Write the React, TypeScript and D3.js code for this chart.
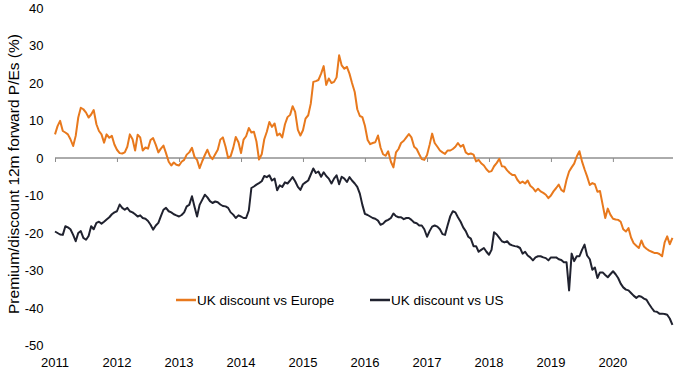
import React, { useRef, useEffect } from 'react';
import * as d3 from 'd3';

// half-monthly readings, 24 per year, 2011 -> 2020
const years = [2011, 2012, 2013, 2014, 2015, 2016, 2017, 2018, 2019, 2020];

const europe2011 = [6.3, 8.5, 9.9, 7.2, 6.8, 6.3, 5.0, 3.2, 5.9, 10.8, 13.4, 13.0, 12.1, 10.8, 11.6, 12.8, 9.0, 7.2, 6.3, 4.1, 6.3, 5.4, 5.9, 3.6];
const europe2012 = [2.2, 1.3, 1.2, 1.5, 3.0, 6.3, 5.0, 2.0, 6.2, 5.5, 2.0, 2.8, 2.5, 4.8, 5.3, 3.5, 1.5, 2.5, 3.3, 1.3, -1.0, -2.0, -1.2, -1.8];
const europe2013 = [-2.0, -1.0, -0.5, 0.9, 1.5, 2.7, 0.3, -0.5, -2.7, -0.8, 0.8, 2.2, 0.5, -0.3, 1.0, 2.2, 4.9, 5.5, 3.0, 0, 0.5, 2.7, 5.6, 4.2];
const europe2014 = [1.3, 4.9, 5.8, 8.0, 6.8, 7.0, 4.4, -0.4, 1.0, 5.0, 7.0, 9.6, 8.3, 9.2, 6.0, 6.5, 5.5, 9.0, 10.9, 11.5, 13.8, 12.3, 7.5, 6.0];
const europe2015 = [7.4, 10.5, 11.4, 14.5, 20.3, 20.5, 20.8, 22.5, 24.5, 19.5, 21.2, 20.0, 20.3, 21.5, 27.4, 24.7, 23.8, 24.3, 22.5, 20.0, 17.6, 13.0, 11.2, 10.9];
const europe2016 = [8.6, 4.8, 3.7, 4.0, 4.2, 6.0, 2.8, 1.0, 0.6, 1.8, -1.0, -2.5, 1.5, 2.4, 4.0, 4.6, 5.5, 6.4, 5.5, 3.0, 2.4, 1.0, -0.3, -0.5];
const europe2017 = [0.8, 3.5, 6.5, 4.0, 3.0, 2.0, 1.5, 1.1, 2.0, 2.0, 2.4, 3.0, 4.0, 3.0, 3.5, 1.5, 1.0, 1.2, 0.9, -0.9, -0.5, -1.4, -2.0, -3.0];
const europe2018 = [-3.7, -3.5, -2.2, -1.3, -0.2, -2.2, -2.3, -3.3, -4.0, -4.5, -4.5, -5.8, -6.7, -6.3, -6.8, -6.0, -7.4, -8.0, -8.9, -8.2, -8.9, -9.3, -9.8, -10.7];
const europe2019 = [-10.0, -8.9, -8.0, -7.1, -8.5, -9.0, -5.8, -3.6, -2.5, -1.5, 0.4, 1.8, -0.9, -3.0, -4.9, -7.2, -6.7, -7.0, -9.0, -8.8, -12.5, -16.0, -13.5, -15.1];
const europe2020 = [-16.2, -16.4, -16.5, -17.0, -19.0, -19.6, -18.7, -21.2, -22.7, -23.4, -24.0, -22.0, -23.6, -24.2, -24.7, -25.0, -25.3, -25.3, -25.6, -26.2, -22.5, -20.9, -23.0, -21.3];

const us2011 = [-19.6, -20, -20.4, -20.5, -18.2, -18.5, -19, -20.5, -22.2, -20, -19.5, -21.3, -21.8, -20.8, -18.2, -19, -17.3, -17, -17.5, -17, -16.4, -15.8, -15, -14.5];
const us2012 = [-14.2, -12.4, -13.3, -13.8, -13.3, -14.2, -14.5, -15, -15.6, -15.3, -16, -16.2, -16.8, -17.8, -19.1, -18, -17.3, -15.5, -13.8, -13.3, -14.2, -14.5, -15, -15.3];
const us2013 = [-15.6, -15.2, -14.5, -12.9, -12.5, -10.2, -13, -15.6, -12.5, -11.1, -9.8, -10.5, -11.5, -12, -11.6, -11.8, -12.4, -12.8, -12.9, -13.3, -14.5, -15.1, -16, -15.3];
const us2014 = [-15.6, -16, -16, -14, -8, -7.6, -7.1, -6.7, -6.2, -4.8, -5.1, -4.6, -6, -5.5, -8.6, -7.3, -7.7, -6.5, -6.8, -6, -5.1, -6.2, -7.7, -8.5];
const us2015 = [-7, -6.5, -6, -4.4, -2.8, -4, -3.6, -5, -3.8, -4.8, -5.5, -6.8, -5.5, -4.6, -7, -5, -5.5, -6.4, -5.1, -6, -6.8, -7.7, -9.5, -12.5];
const us2016 = [-14.9, -15.2, -15.6, -16, -16.2, -16.7, -17.8, -17.5, -16.8, -16.5, -16, -14.8, -15.5, -15.8, -15.8, -16.3, -16, -16, -16.5, -17.2, -17.4, -18, -18, -19];
const us2017 = [-21, -19.5, -18.3, -18, -18.3, -19, -20.3, -20.5, -18, -15.5, -14.2, -14.5, -15.8, -17, -18.5, -19.5, -21, -21.5, -23.5, -23.5, -25, -24.5, -24, -25];
const us2018 = [-25.8, -24.5, -19.8, -20.4, -21.3, -22.2, -22.5, -22.2, -23, -23.3, -23.5, -23.6, -24, -25.5, -25, -26, -26.5, -27.3, -26.5, -26.2, -26.2, -26.5, -26.7, -27.3];
const us2019 = [-26.5, -26.5, -26.5, -27, -27.2, -27.8, -27.8, -35.3, -25.5, -27.5, -26.2, -26.2, -24.5, -23.1, -26, -27, -29.8, -29.2, -32, -30.5, -30.5, -31.2, -31.8, -31];
const us2020 = [-30.2, -31, -32, -33.5, -34.5, -35.1, -35.3, -36, -36.7, -37.3, -36.8, -37, -37.5, -37.8, -39, -40, -40.9, -41, -41.5, -41.5, -41.6, -41.8, -42.8, -44.5];

const europeValues = [europe2011, europe2012, europe2013, europe2014, europe2015, europe2016, europe2017, europe2018, europe2019, europe2020].flat();
const usValues = [us2011, us2012, us2013, us2014, us2015, us2016, us2017, us2018, us2019, us2020].flat();

const yTicks = [40, 30, 20, 10, 0, -10, -20, -30, -40, -50];
const seriesNames = ['UK discount vs Europe', 'UK discount vs US'];
const seriesColors = ['#E8791D', '#20222F'];

const W = 680;
const H = 372;
const FONT = '"Liberation Sans", Arial, sans-serif';

// every reading sits half a month after the one before
const dateAt = (i: number) => new Date(2011, 0, 1 + Math.round(i * 15.22));

const Chart = () => {
  const svgRef = useRef<SVGSVGElement>(null);

  useEffect(() => {
    const svg = d3.select(svgRef.current);
    svg.selectAll('*').remove(); // wipe on rerender

    const x = d3.scaleTime()
      .domain([new Date(2011, 0, 1), new Date(2021, 0, 1)])
      .range([55, 675]);

    const y = d3.scaleLinear()
      .domain([-50, 40])
      .range([345.5, 8]);

    // y tick labels only, no axis line
    svg.append('g')
      .selectAll('text')
      .data(yTicks)
      .enter()
      .append('text')
      .attr('x', 43.5)
      .attr('y', d => y(d))
      .attr('dy', '0.35em')
      .attr('text-anchor', 'end')
      .attr('font-family', FONT)
      .attr('font-size', 13)
      .attr('fill', '#000')
      .text(d => d);

    // y title
    svg.append('text')
      .attr('transform', `translate(19,${174}) rotate(-90)`)
      .attr('text-anchor', 'middle')
      .attr('font-family', FONT)
      .attr('font-size', 15.5)
      .attr('fill', '#000')
      .text('Premium/discount 12m forward P/Es (%)');

    // zero line with year ticks
    const xAxis = d3.axisBottom(x)
      .tickValues(years.map(yr => new Date(yr, 0, 1)))
      .tickSize(4)
      .tickSizeOuter(0)
      .tickFormat(() => '');

    const axisG = svg.append('g')
      .attr('transform', `translate(0,${y(0)})`)
      .call(xAxis);
    axisG.select('.domain')
      .attr('d', `M55,0H673`)
      .attr('stroke', '#595959');
    axisG.selectAll('.tick line').attr('stroke', '#8c8c8c');

    // year labels down at the bottom
    svg.append('g')
      .selectAll('text')
      .data(years)
      .enter()
      .append('text')
      .attr('x', d => x(new Date(d, 0, 1)))
      .attr('y', 367)
      .attr('text-anchor', 'middle')
      .attr('font-family', FONT)
      .attr('font-size', 13)
      .attr('fill', '#000')
      .text(d => d);

    const line = d3.line<number>()
      .x((d, i) => x(dateAt(i)))
      .y(d => y(d))
      .curve(d3.curveLinear);

    [europeValues, usValues].forEach((vals, k) => {
      svg.append('path')
        .datum(vals)
        .attr('d', line)
        .attr('fill', 'none')
        .attr('stroke', seriesColors[k])
        .attr('stroke-width', 2)
        .attr('stroke-linejoin', 'round');
    });

    // legend
    const legendX = [176, 370];
    seriesNames.forEach((name, k) => {
      const g = svg.append('g').attr('transform', `translate(${legendX[k]},300)`);
      g.append('line')
        .attr('x1', 0)
        .attr('x2', 20)
        .attr('stroke', seriesColors[k])
        .attr('stroke-width', 2.5);
      g.append('text')
        .attr('x', 21)
        .attr('dy', '0.35em')
        .attr('font-family', FONT)
        .attr('font-size', 13.5)
        .attr('fill', '#000')
        .text(name);
    });
  }, []);

  return (
    <svg
      ref={svgRef}
      width={W}
      height={H}
      style={{ position: 'absolute', left: 0, top: 0, background: '#fff' }}
    />
  );
};

export default function App() {
  return <Chart />;
}
